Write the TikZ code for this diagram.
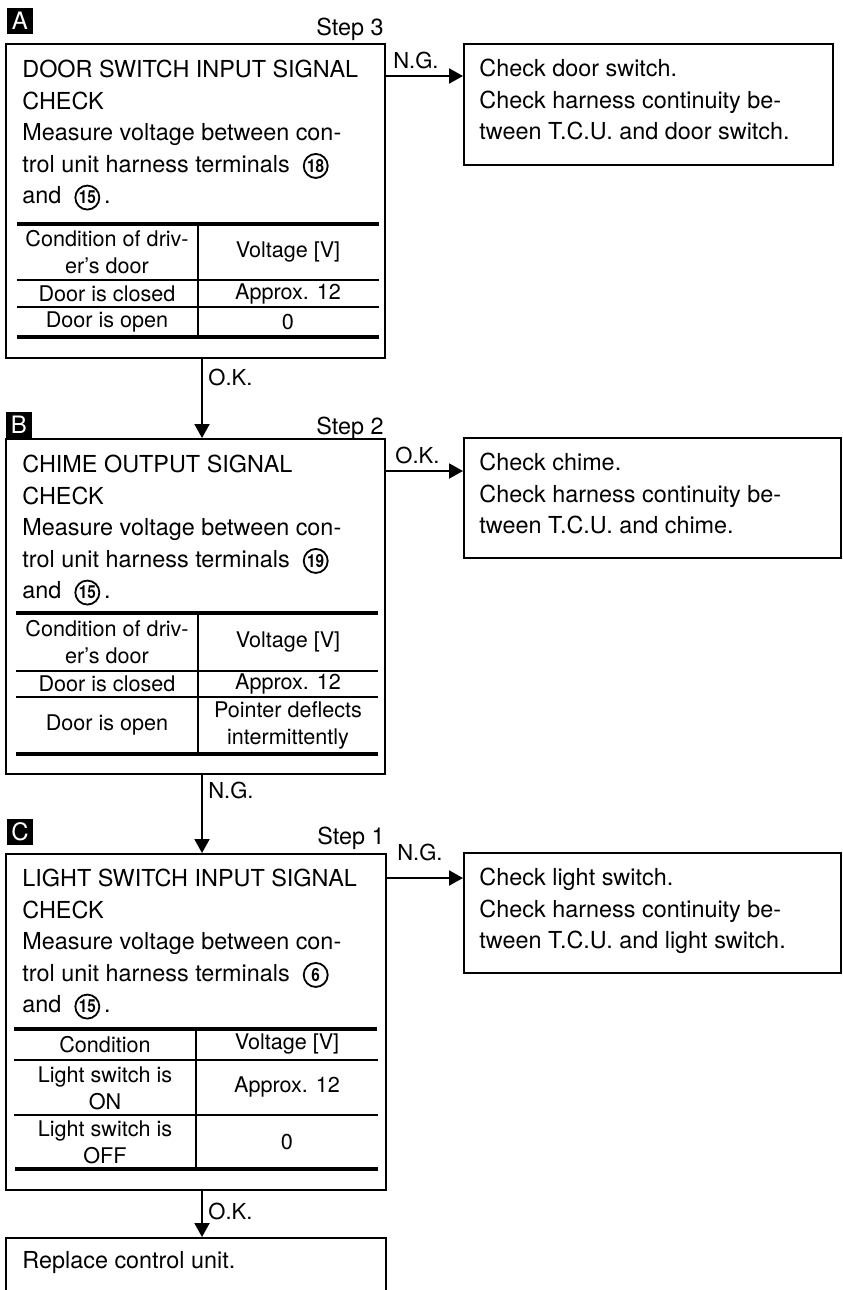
\documentclass[tikz,border=0pt]{standalone}
\usepackage{fontspec}
\setmainfont{TeX Gyre Heros}
\usepackage{tikz}
\usetikzlibrary{arrows.meta,positioning}

% circled terminal number
\newcommand{\term}[1]{\tikz[baseline=(t.base)]\node[draw, circle, line width=0.9pt, inner sep=0pt, minimum size=12pt, font=\fontsize{9}{9}\selectfont\bfseries\addfontfeature{FakeStretch=0.85}] (t) {#1};}

\begin{document}
\begin{tikzpicture}[
    x=0.5pt, y=-0.5pt,
    box/.style={draw, line width=1pt, anchor=north west, inner sep=0pt},
    txt/.style={inner sep=0pt, align=left, font=\fontsize{11.7}{15.75}\selectfont},
    cell/.style={inner sep=0pt, align=center, font=\fontsize{10.8}{13.5}\selectfont},
    badge/.style={fill=black, text=white, minimum size=13pt, inner sep=0pt, font=\fontsize{12}{12}\selectfont},
    steplbl/.style={anchor=base east, inner sep=0pt, font=\fontsize{11.7}{14}\selectfont},
    lbl/.style={anchor=base west, inner sep=0pt, font=\fontsize{11}{13}\selectfont},
    rule/.style={line width=0.8pt},
    heavy/.style={line width=2pt},
    arr/.style={-{Triangle[length=7pt,width=7.5pt]}, line width=1pt}
]
    \useasboundingbox (0,0) rectangle (842,1290);

    % A: door switch
    \node[badge] (badgeA) at (20,21) {A};
    \node[steplbl] (stepA) at (384,35) {Step 3};
    \node[box, minimum width=189.5pt, minimum height=157pt] (doorchk) at (5,43) {};
    \node[txt, below right=8.5pt and 8.5pt of doorchk.north west] (doortxt) {DOOR SWITCH INPUT SIGNAL\\CHECK\\Measure voltage between con-\\trol unit harness terminals \ \term{18}\\and \ \term{15}\,.};
    \draw[heavy] (17,224) -- (379,224);
    \draw[rule] (17,280) -- (379,280) (17,307) -- (379,307) (198,224) -- (198,337);
    \draw[heavy] (17,337) -- (379,337);
    \node[cell] (doorh1) at (107,252) {Condition of driv-\\er's door};
    \node[cell] (doorh2) at (288,252) {Voltage [V]};
    \node[cell] (doorr1) at (107,294) {Door is closed};
    \node[cell] (doorv1) at (288,294) {Approx. 12};
    \node[cell] (doorr2) at (107,322) {Door is open};
    \node[cell] (doorv2) at (288,322) {0};
    \node[box, minimum width=184.5pt, minimum height=60.5pt] (doorfix) at (463,43) {};
    \node[txt, below right=8pt and 8pt of doorfix.north west] (doorfixtxt) {Check door switch.\\Check harness continuity be-\\tween T.C.U. and door switch.};

    % B: chime
    \node[badge] (badgeB) at (19,425) {B};
    \node[steplbl] (stepB) at (384,434) {Step 2};
    \node[box, minimum width=189.5pt, minimum height=167.5pt] (chimechk) at (5,438) {};
    \node[txt, below right=8.5pt and 8.5pt of chimechk.north west] (chimetxt) {CHIME OUTPUT SIGNAL\\CHECK\\Measure voltage between con-\\trol unit harness terminals \ \term{19}\\and \ \term{15}\,.};
    \draw[heavy] (16,613) -- (378,613);
    \draw[rule] (16,671) -- (378,671) (16,697) -- (378,697) (198,613) -- (198,754);
    \draw[heavy] (16,754) -- (378,754);
    \node[cell] (chimeh1) at (107,642) {Condition of driv-\\er's door};
    \node[cell] (chimeh2) at (288,642) {Voltage [V]};
    \node[cell] (chimer1) at (107,684) {Door is closed};
    \node[cell] (chimev1) at (288,684) {Approx. 12};
    \node[cell] (chimer2) at (107,725) {Door is open};
    \node[cell] (chimev2) at (288,725) {Pointer deflects\\intermittently};
    \node[box, minimum width=188.5pt, minimum height=60pt] (chimefix) at (463,437) {};
    \node[txt, below right=8pt and 8pt of chimefix.north west] (chimefixtxt) {Check chime.\\Check harness continuity be-\\tween T.C.U. and chime.};

    % C: light switch
    \node[badge] (badgeC) at (20,832) {C};
    \node[steplbl] (stepC) at (385,844) {Step 1};
    \node[box, minimum width=190pt, minimum height=168pt] (lightchk) at (5,853) {};
    \node[txt, below right=8pt and 8.5pt of lightchk.north west] (lighttxt) {LIGHT SWITCH INPUT SIGNAL\\CHECK\\Measure voltage between con-\\trol unit harness terminals \ \term{6}\\and \ \term{15}\,.};
    \draw[heavy] (14,1029) -- (377,1029);
    \draw[rule] (14,1060) -- (378,1060) (14,1115) -- (378,1115) (196,1029) -- (196,1169);
    \draw[heavy] (15,1169) -- (378,1169);
    \node[cell] (lighth1) at (105,1045) {Condition};
    \node[cell] (lighth2) at (287,1044) {Voltage [V]};
    \node[cell] (lightr1) at (105,1088) {Light switch is\\ON};
    \node[cell] (lightv1) at (287,1087) {Approx. 12};
    \node[cell] (lightr2) at (105,1142) {Light switch is\\OFF};
    \node[cell] (lightv2) at (287,1142) {0};
    \node[box, minimum width=188.5pt, minimum height=60pt] (lightfix) at (463,852) {};
    \node[txt, below right=8pt and 8pt of lightfix.north west] (lightfixtxt) {Check light switch.\\Check harness continuity be-\\tween T.C.U. and light switch.};

    % last step
    \node[box, minimum width=190pt, minimum height=50pt] (replace) at (5,1237) {};
    \node[txt, below right=7pt and 8.5pt of replace.north west] (replacetxt) {Replace control unit.};

    % connectors
    \draw[arr] (doorchk.east |- 0,76) -- (doorfix.west |- 0,76);
    \draw[arr] (chimechk.east |- 0,471) -- (chimefix.west |- 0,471);
    \draw[arr] (lightchk.east |- 0,878) -- (lightfix.west |- 0,878);
    \draw[arr] (doorchk.south -| 202,0) -- (chimechk.north -| 202,0);
    \draw[arr] (chimechk.south -| 202,0) -- (lightchk.north -| 202,0);
    \draw[arr] (lightchk.south -| 202,0) -- (replace.north -| 202,0);

    \node[lbl] (ngA) at (393,68) {N.G.};
    \node[lbl] (okB) at (395,463) {O.K.};
    \node[lbl] (ngC) at (397,860) {N.G.};
    \node[lbl] (okAB) at (208,385) {O.K.};
    \node[lbl] (ngBC) at (208,798) {N.G.};
    \node[lbl] (okC) at (208,1219) {O.K.};
\end{tikzpicture}
\end{document}
